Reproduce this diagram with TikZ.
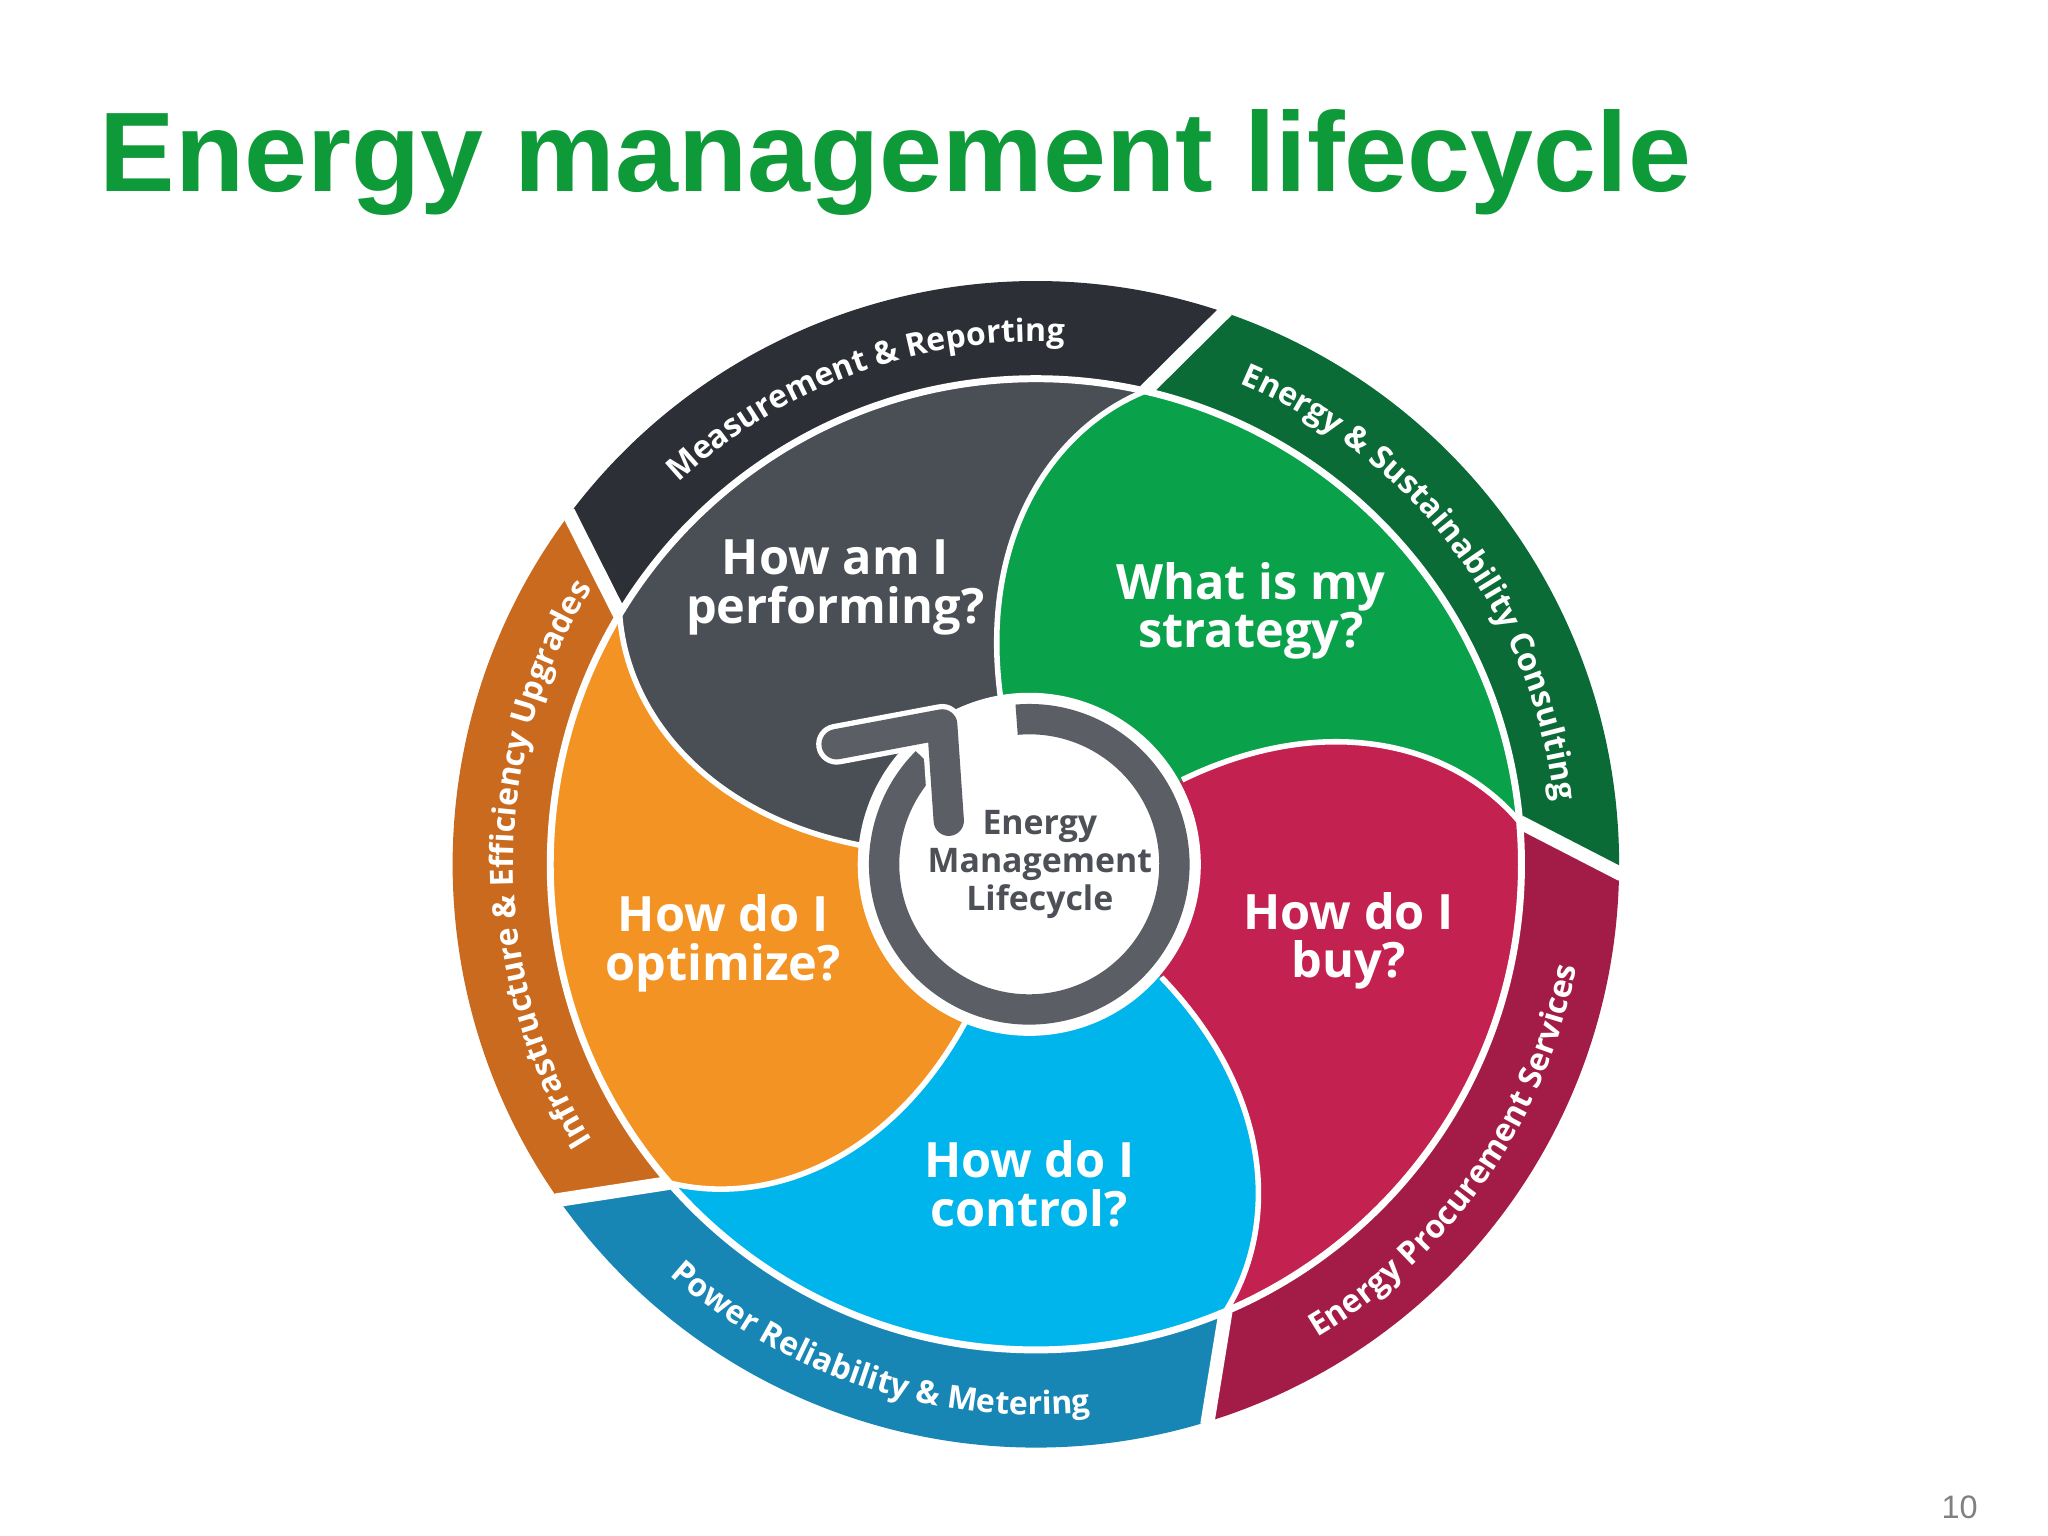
\documentclass[tikz,border=0pt]{standalone}
\usepackage{fontspec}
\newfontfamily\os{Open Sans}
\newfontfamily\lib{Liberation Sans}
\usetikzlibrary{decorations.text}
\definecolor{titlegreen}{HTML}{0F9A3A}
\definecolor{bBlack}{HTML}{2C3036}\definecolor{iBlack}{HTML}{4A4F56}
\definecolor{bOrange}{HTML}{C96A1E}\definecolor{iOrange}{HTML}{F39323}
\definecolor{bBlue}{HTML}{1886B4}\definecolor{iBlue}{HTML}{00B4EC}
\definecolor{bRed}{HTML}{A31C47}\definecolor{iRed}{HTML}{C3214F}
\definecolor{bGreen}{HTML}{0B6B36}\definecolor{iGreen}{HTML}{0AA14B}
\definecolor{hubgray}{HTML}{5B5F65}
\definecolor{hubtext}{HTML}{4D5157}
\newcommand\mysector[3]{%
  \fill[#2] ({#1+6}:3.68) arc[start angle={#1+6}, end angle={#1+78}, radius=3.68] -- ({#1+72}:4.42) arc[start angle={#1+72}, end angle={#1}, radius=4.42] -- cycle;
  \fill[#3] (0,0) -- ({#1+103}:1.28) .. controls ({#1+101}:2.5) and ({#1+89}:3.3) .. ({#1+78}:3.68) arc[start angle={#1+78}, end angle={#1+6}, radius=3.68] .. controls ({#1+17}:3.3) and ({#1+29}:2.5) .. ({#1+31}:1.28) -- cycle;
}
\newcommand\ringfont{\os\bfseries\fontsize{6.9}{8}\selectfont}
\tikzset{
  sep/.style={white, line width=1.2pt},
  qlabel/.style={text=white, font=\os\bfseries\fontsize{10.5}{10.5}\selectfont, align=center},
  ringtext/.style={decorate, decoration={text along path, text align=center, text color=white}},
}
\begin{document}
\begin{tikzpicture}
\useasboundingbox[fill=white] (-7.85,-5.09) rectangle (7.67,6.55);
\node[anchor=base west, text=titlegreen, font=\lib\bfseries\fontsize{24.4}{26}\selectfont, inner sep=0] (title) at (-7.10,5.10) {Energy management lifecycle};
\node[text=gray, font=\lib\fontsize{7}{8}\selectfont] (page) at (7.00,-4.87) {10};
% sectors
\mysector{71}{bBlack}{iBlack}
\mysector{143}{bOrange}{iOrange}
\mysector{215}{bBlue}{iBlue}
\mysector{287}{bRed}{iRed}
\mysector{359}{bGreen}{iGreen}
% separators
\draw[white, line width=1.5pt] (0,0) circle[radius=3.68];
\foreach \bb in {71,143,215,287,359}{
  \draw[sep] ({\bb+31}:1.28) .. controls ({\bb+29}:2.5) and ({\bb+17}:3.3) .. ({\bb+6}:3.68);
  \draw[white, line width=3pt] ({\bb+6}:3.68) -- (\bb:4.44);
}
% ring texts
{\ringfont
\path[ringtext, decoration={text={Measurement {\&} Reporting}}] (140:3.96) arc[start angle=140, end angle=80, radius=3.96];
\path[ringtext, decoration={text={Energy {\&} Sustainability Consulting}}] (72:3.96) arc[start angle=72, end angle=2, radius=3.96];
\path[ringtext, decoration={text={Infrastructure {\&} Efficiency Upgrades}}] (214:3.96) arc[start angle=214, end angle=146, radius=3.96];
\path[ringtext, decoration={text={Energy Procurement Services}}] (-68:4.17) arc[start angle=-68, end angle=-2, radius=4.17];
\path[ringtext, decoration={text={Power Reliability {\&} Metering}}] (-140:4.17) arc[start angle=-140, end angle=-76, radius=4.17];
}
% question labels
\node[qlabel] (q1) at (-1.52,2.10) {How am I\\performing?};
\node[qlabel] (q2) at (1.63,1.92) {What is my\\strategy?};
\node[qlabel] (q3) at (2.37,-0.58) {How do I\\buy?};
\node[qlabel] (q4) at (-0.05,-2.42) {How do I\\control?};
\node[qlabel] (q5) at (-2.37,-0.60) {How do I\\optimize?};
% hub
\begin{scope}[shift={(-0.05,0.0)}]
\fill[white] (0,0) circle[radius=1.3];
\draw[white, line width=0.31cm] (95:1.1) arc[start angle=95, end angle=-225, radius=1.1];
\draw[hubgray, line width=0.23cm] (95:1.1) arc[start angle=95, end angle=-225, radius=1.1];
\coordinate (tip) at (-0.66,1.06);
\coordinate (stemend) at (-0.61,0.33);
\coordinate (barbend) at (-1.46,0.91);
\draw[white, line width=0.31cm, line cap=round, line join=round] (barbend) -- (tip) -- (stemend);
\draw[hubgray, line width=0.23cm, line cap=round, line join=round] (barbend) -- (tip) -- (stemend);
\node[text=hubtext, font=\os\bfseries\fontsize{7.3}{8.2}\selectfont, align=center] (hub) at (0.08,0.0) {Energy\\Management\\Lifecycle};
\end{scope}
\end{tikzpicture}
\end{document}
